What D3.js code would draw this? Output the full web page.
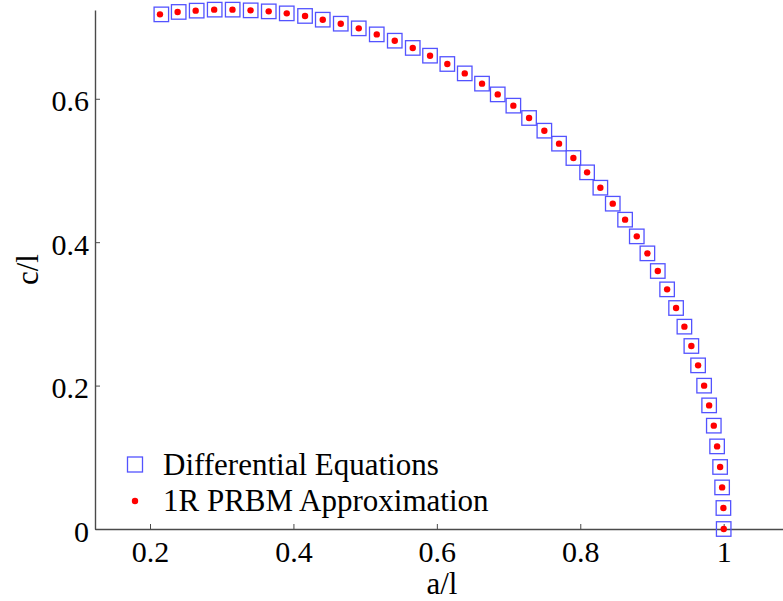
<!DOCTYPE html>
<html>
<head>
<meta charset="utf-8">
<script src="https://cdn.jsdelivr.net/npm/d3@7"></script>
<style>
  html, body { margin: 0; padding: 0; background: #fff; }
  svg text { font-family: "Liberation Serif", "Times New Roman", serif; fill: #000; }
</style>
</head>
<body>
<svg id="chart" width="783" height="601"></svg>
<script>
// Normalised crank position a/l and coupler height c/l
const deA = [0.2158, 0.2400, 0.2651, 0.2902, 0.3153, 0.3404, 0.3656, 0.3907, 0.4162, 0.4409,
             0.4660, 0.4911, 0.5162, 0.5413, 0.5664, 0.5905, 0.6146, 0.6389, 0.6630, 0.6849,
             0.7067, 0.7286, 0.7499, 0.7704, 0.7904, 0.8095, 0.8280, 0.8453, 0.8625, 0.8788,
             0.8936, 0.9081, 0.9211, 0.9336, 0.9452, 0.9549, 0.9643, 0.9727, 0.9797, 0.9862,
             0.9908, 0.9950, 0.9978, 0.9996, 1.0000];
const deC = [0.7177, 0.7211, 0.7229, 0.7243, 0.7243, 0.7233, 0.7219, 0.7191, 0.7155, 0.7103,
             0.7047, 0.6982, 0.6898, 0.6810, 0.6709, 0.6601, 0.6485, 0.6354, 0.6211, 0.6061,
             0.5904, 0.5732, 0.5555, 0.5374, 0.5174, 0.4974, 0.4760, 0.4537, 0.4314, 0.4081,
             0.3844, 0.3598, 0.3342, 0.3082, 0.2822, 0.2552, 0.2282, 0.1999, 0.1724, 0.1441,
             0.1152, 0.0865, 0.0580, 0.0293, 0.0000];
const prbmA = [0.2139, 0.2385, 0.2637, 0.2895, 0.3150, 0.3402, 0.3655, 0.3907, 0.4162, 0.4409,
               0.4660, 0.4911, 0.5162, 0.5413, 0.5664, 0.5905, 0.6146, 0.6389, 0.6630, 0.6849,
               0.7067, 0.7286, 0.7499, 0.7704, 0.7904, 0.8095, 0.8280, 0.8453, 0.8625, 0.8788,
               0.8936, 0.9081, 0.9211, 0.9336, 0.9452, 0.9549, 0.9643, 0.9727, 0.9797, 0.9862,
               0.9908, 0.9950, 0.9978, 0.9996, 1.0001];
const prbmC = [0.7177, 0.7211, 0.7229, 0.7243, 0.7243, 0.7233, 0.7219, 0.7191, 0.7155, 0.7103,
               0.7047, 0.6982, 0.6898, 0.6810, 0.6709, 0.6601, 0.6485, 0.6354, 0.6211, 0.6061,
               0.5904, 0.5732, 0.5555, 0.5374, 0.5174, 0.4974, 0.4760, 0.4537, 0.4314, 0.4081,
               0.3844, 0.3598, 0.3342, 0.3082, 0.2822, 0.2552, 0.2282, 0.1999, 0.1724, 0.1441,
               0.1152, 0.0865, 0.0580, 0.0293, 0.0000];
const xTicks = [0.2, 0.4, 0.6, 0.8, 1];
const yTicks = [0, 0.2, 0.4, 0.6];
const seriesNames = ["Differential Equations", "1R PRBM Approximation"];

const svg = d3.select("#chart");
const plotLeft = 95, plotBottom = 529, plotTop = 10, plotRight = 783;
const tickFont = 30, labelFont = 31;

// Equal aspect: both axes use the same pixels per unit
const x = d3.scaleLinear().domain([0.1233, 1.0827]).range([plotLeft, plotRight]);
const y = d3.scaleLinear().domain([0, 0.7238]).range([plotBottom, plotTop]);

const fmt = d => d === 0 ? "0" : d === 1 ? "1" : d3.format(".1f")(d);
const axisColor = "#4a4a4a";

// x axis
const gx = svg.append("g").attr("transform", `translate(0,${plotBottom})`)
  .call(d3.axisBottom(x).tickValues(xTicks).tickFormat(fmt).tickSizeInner(-5).tickSizeOuter(0).tickPadding(12));
gx.select(".domain").attr("stroke", axisColor).attr("stroke-width", 1.4);
gx.selectAll(".tick line").attr("stroke", axisColor).attr("stroke-width", 1);
gx.selectAll(".tick text").attr("font-size", tickFont).attr("fill", "#000");

// y axis
const gy = svg.append("g").attr("transform", `translate(${plotLeft},0)`)
  .call(d3.axisLeft(y).tickValues(yTicks).tickFormat(fmt).tickSizeInner(-5).tickSizeOuter(0).tickPadding(6));
gy.select(".domain").attr("stroke", axisColor).attr("stroke-width", 1.4);
gy.selectAll(".tick line").attr("stroke", axisColor).attr("stroke-width", 1);
gy.selectAll(".tick text").attr("font-size", tickFont).attr("dy", "0.4em").attr("fill", "#000");

// axis titles
svg.append("text").attr("x", 442).attr("y", 594).attr("text-anchor", "middle")
  .attr("font-size", labelFont).text("a/l");
svg.append("text").attr("transform", `translate(38,${(plotTop + plotBottom) / 2}) rotate(-90)`)
  .attr("text-anchor", "middle").attr("font-size", labelFont).text("c/l");

// Differential-equation solution: open blue squares
const sq = 14.5;
svg.append("g").selectAll("rect").data(d3.range(deA.length)).join("rect")
  .attr("x", i => x(deA[i]) - sq / 2)
  .attr("y", i => y(deC[i]) - sq / 2)
  .attr("width", sq).attr("height", sq)
  .attr("fill", "none").attr("stroke", "#5353ff").attr("stroke-width", 1.3);

// PRBM approximation: red dots
svg.append("g").selectAll("circle").data(d3.range(prbmA.length)).join("circle")
  .attr("cx", i => x(prbmA[i]))
  .attr("cy", i => y(prbmC[i]))
  .attr("r", 3.2).attr("fill", "#ff0000");

// legend
const lg = svg.append("g");
lg.append("rect").attr("x", 135 - 7.5).attr("y", 464.5 - 7.5).attr("width", 15).attr("height", 15)
  .attr("fill", "none").attr("stroke", "#5353ff").attr("stroke-width", 1.3);
lg.append("circle").attr("cx", 135).attr("cy", 501).attr("r", 3.2).attr("fill", "#ff0000");
lg.append("text").attr("x", 163).attr("y", 475).attr("font-size", labelFont).text(seriesNames[0]);
lg.append("text").attr("x", 163).attr("y", 511).attr("font-size", labelFont).text(seriesNames[1]);
</script>
</body>
</html>
